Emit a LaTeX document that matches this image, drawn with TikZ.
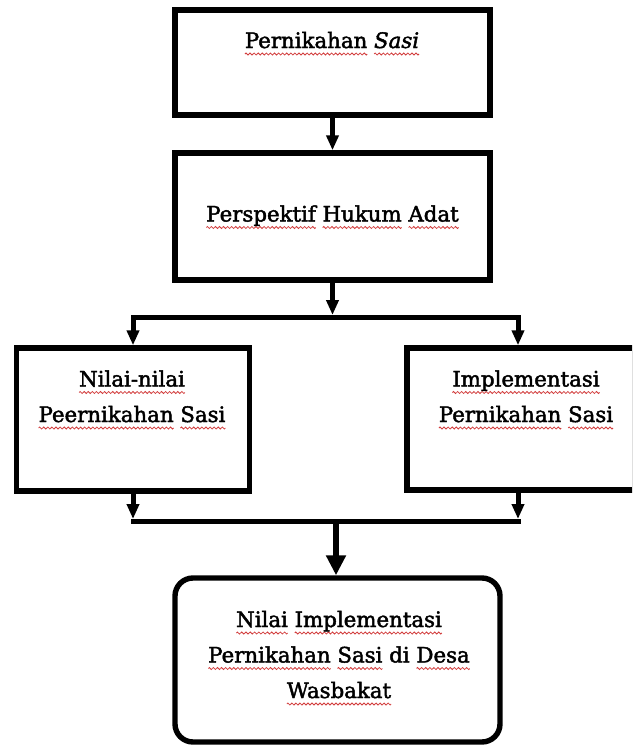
\documentclass[tikz,border=0pt]{standalone}
\usepackage{fontspec}
\setmainfont{DejaVu Serif}[FakeBold=2]
\usetikzlibrary{arrows.meta,calc}
\definecolor{wavered}{RGB}{210,60,60}
\newsavebox\wavebox
\newlength\wvlen
\newcommand\wv[1]{\settowidth\wvlen{#1}\leavevmode\rlap{\lower7pt\hbox to\wvlen{\xleaders\copy\wavebox\hfil}}#1}
\tikzset{
  box/.style={draw=black, line width=5.4pt, fill=white, rectangle, inner sep=0pt},
  rbox/.style={box, rounded corners=18pt},
  lbl/.style={font=\fontsize{21.3pt}{35.5pt}\selectfont, align=center, anchor=base, inner sep=0pt},
  ln/.style={draw=black, line width=5pt, line join=miter},
  arr/.style={ln, -{Triangle[length=15pt,width=12pt]}},
  barr/.style={draw=black, line width=6.5pt, -{Triangle[length=20pt,width=19pt]}},
}
\begin{document}
\sbox\wavebox{\begin{pgfpicture}%
\pgfsetlinewidth{0.8pt}%
\pgfsetstrokecolor{wavered}%
\pgfpathmoveto{\pgfpoint{0pt}{0pt}}%
\pgfpathsine{\pgfpoint{1pt}{1pt}}%
\pgfpathcosine{\pgfpoint{1pt}{-1pt}}%
\pgfpathsine{\pgfpoint{1pt}{-1pt}}%
\pgfpathcosine{\pgfpoint{1pt}{1pt}}%
\pgfusepath{stroke}%
\pgfresetboundingbox
\pgfpathrectangle{\pgfpoint{0pt}{-1pt}}{\pgfpoint{4pt}{2pt}}%
\pgfusepath{use as bounding box}%
\end{pgfpicture}}%
\begin{tikzpicture}[x=1pt,y=-1pt]
\clip (0,0) rectangle (632,747);
\fill[white] (0,0) rectangle (632,747);
% boxes
\node[box, minimum width=315pt, minimum height=105pt] (b1) at (332.5,62.5) {};
\node[box, minimum width=315pt, minimum height=127pt] (b2) at (332.5,216.5) {};
\node[box, minimum width=233pt, minimum height=143pt] (lb) at (133,419.5) {};
\node[box, minimum width=228pt, minimum height=142pt] (rb) at (521,419) {};
\node[rbox, minimum width=325pt, minimum height=164pt] (bb) at (337.5,660) {};
% texts (anchor base = baseline of last line)
\node[lbl] (t1) at (332,48) {\wv{Pernikahan} {\itshape\wv{Sasi}}};
\node[lbl] (t2) at (332.5,221.5) {\wv{Perspektif} \wv{Hukum} \wv{Adat}};
\node[lbl] (tl) at (132,422) {\wv{Nilai-nilai}\\ \wv{Peernikahan} \wv{Sasi}};
\node[lbl] (tr) at (526,422) {\wv{Implementasi}\\ \wv{Pernikahan} \wv{Sasi}};
\node[lbl] (tb) at (339,698) {\wv{Nilai} \wv{Implementasi}\\ \wv{Pernikahan} \wv{Sasi} di \wv{Desa}\\ \wv{Wasbakat}};
% junctions
\coordinate (jm) at (332.5,317);
\coordinate (jl) at (133,317);
\coordinate (jr) at (518,317);
\coordinate (km) at (336,521);
\coordinate (kl) at (133,521);
\coordinate (kr) at (518,521);
% connectors
\draw[arr] (b1.south) -- (b2.north);
\draw[arr, shorten >=2pt] (b2.south) -- (jm);
\draw[arr] (jm) -- (jl) -- (jl |- lb.north);
\draw[arr] (jm) -- (jr) -- (jr |- rb.north);
\draw[arr, shorten >=2pt] (kl |- lb.south) -- (kl);
\draw[arr, shorten >=2pt] (kr |- rb.south) -- (kr);
\draw[ln, line cap=rect] (kl) -- (kr);
\draw[barr] (km) -- (km |- bb.north);
\end{tikzpicture}
\end{document}
